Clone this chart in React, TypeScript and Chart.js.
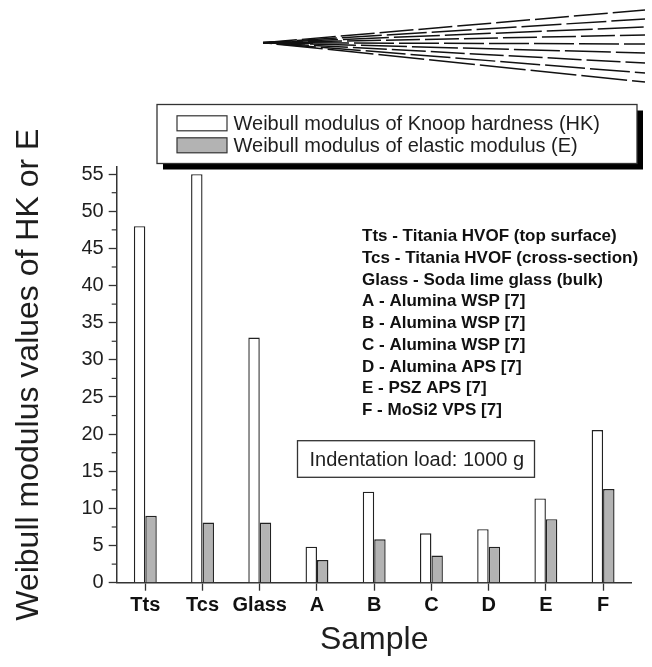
import React, { useEffect, useRef } from 'react';
import { Chart, registerables } from 'chart.js';

Chart.register(...registerables);

const categories = ['Tts', 'Tcs', 'Glass', 'A', 'B', 'C', 'D', 'E', 'F'];
const hkValues = [48, 55, 33, 4.85, 12.25, 6.65, 7.2, 11.35, 20.55];
const eValues = [9.0, 8.1, 8.1, 3.05, 5.85, 3.65, 4.85, 8.55, 12.6];
const seriesLabels = [
  'Weibull modulus of Knoop hardness (HK)',
  'Weibull modulus of elastic modulus (E)',
];
const sampleNotes = [
  'Tts - Titania HVOF (top surface)',
  'Tcs - Titania HVOF (cross-section)',
  'Glass - Soda lime glass (bulk)',
  'A - Alumina WSP [7]',
  'B - Alumina WSP [7]',
  'C - Alumina WSP [7]',
  'D - Alumina APS [7]',
  'E - PSZ APS [7]',
  'F - MoSi2 VPS [7]',
];
const loadNote = 'Indentation load: 1000 g';
const yTitle = 'Weibull modulus values of HK or E';
const xTitle = 'Sample';
const yMin = 0;
const yMax = 56;
const yStep = 5;
const yMinorStep = 2.5;

const FONT = '"Liberation Sans", Arial, Helvetica, sans-serif';
const INK = '#1e1e1e';
const GRAY = '#b3b3b3';

const overlay = {
  id: 'overlay',
  afterDraw(chart: any) {
    const ctx = chart.ctx as CanvasRenderingContext2D;
    const ys = chart.scales.y;
    const area = chart.chartArea;
    ctx.save();

    // minor ticks on y axis
    ctx.strokeStyle = '#333';
    ctx.lineWidth = 1.2;
    for (let v = yMin + yMinorStep; v < yMax; v += yStep) {
      const py = ys.getPixelForValue(v);
      ctx.beginPath();
      ctx.moveTo(area.left - 5, py);
      ctx.lineTo(area.left, py);
      ctx.stroke();
    }

    // decorative fan at top right
    const apexX = 263;
    const apexY = 42.7;
    const endX = 645;
    const fanEnds = [10, 19, 27, 35, 44, 53, 63, 73, 82];
    ctx.strokeStyle = '#111';
    ctx.lineWidth = 1.5;
    fanEnds.forEach((ey, i) => {
      ctx.setLineDash([34 + (i % 3) * 6, 5]);
      ctx.lineDashOffset = i * 11;
      ctx.beginPath();
      ctx.moveTo(apexX, apexY);
      ctx.lineTo(endX, ey);
      ctx.stroke();
    });
    ctx.setLineDash([]);
    ctx.lineWidth = 2.5;
    ctx.beginPath();
    ctx.moveTo(apexX, apexY);
    ctx.lineTo(apexX + 50, apexY);
    ctx.stroke();

    // legend box with shadow
    const lx = 157, ly = 104.5, lw = 480, lh = 59;
    ctx.fillStyle = '#000';
    ctx.fillRect(lx + 6, ly + 6, lw, lh);
    ctx.fillStyle = '#fff';
    ctx.fillRect(lx, ly, lw, lh);
    ctx.strokeStyle = '#333';
    ctx.lineWidth = 1.3;
    ctx.strokeRect(lx, ly, lw, lh);
    const rows = [123.3, 145.3];
    chart.data.datasets.forEach((ds: any, i: number) => {
      const cy = rows[i];
      ctx.fillStyle = ds.backgroundColor;
      ctx.fillRect(177, cy - 7.5, 50, 15);
      ctx.strokeStyle = '#333';
      ctx.lineWidth = 1.2;
      ctx.strokeRect(177, cy - 7.5, 50, 15);
      ctx.fillStyle = INK;
      ctx.font = `20px ${FONT}`;
      ctx.textBaseline = 'middle';
      ctx.textAlign = 'left';
      ctx.fillText(ds.label, 233.5, cy + 1);
    });

    // sample notes
    ctx.font = `bold 17px ${FONT}`;
    ctx.fillStyle = '#111';
    ctx.textBaseline = 'middle';
    sampleNotes.forEach((t, i) => {
      ctx.fillText(t, 362, 236.7 + i * 21.7);
    });

    // indentation load box
    ctx.strokeStyle = '#333';
    ctx.lineWidth = 1.3;
    ctx.strokeRect(297.5, 440.7, 237, 36.6);
    ctx.font = `20px ${FONT}`;
    ctx.fillStyle = INK;
    ctx.fillText(loadNote, 309.5, 460);

    ctx.restore();
  },
};

export default function App() {
  const ref = useRef<HTMLCanvasElement | null>(null);

  useEffect(() => {
    if (!ref.current) return;
    const chart = new Chart(ref.current, {
      type: 'bar',
      data: {
        labels: categories,
        datasets: [
          {
            label: seriesLabels[0],
            data: hkValues,
            backgroundColor: '#ffffff',
            borderColor: '#222',
            borderWidth: 1.4,
          },
          {
            label: seriesLabels[1],
            data: eValues,
            backgroundColor: GRAY,
            borderColor: '#222',
            borderWidth: 1.4,
          },
        ],
      },
      options: {
        animation: false,
        responsive: false,
        maintainAspectRatio: false,
        datasets: {
          bar: { categoryPercentage: 0.4, barPercentage: 1.0 },
        },
        layout: { padding: { top: 166.7, right: 20.3, left: 0, bottom: 0 } },
        plugins: {
          legend: { display: false },
          tooltip: { enabled: false },
        },
        scales: {
          x: {
            type: 'category',
            offset: true,
            grid: {
              offset: false,
              drawOnChartArea: false,
              drawTicks: true,
              tickLength: 8,
              color: '#333',
              tickWidth: 1.3,
            },
            border: { display: true, color: '#333', width: 1.5 },
            ticks: {
              color: '#111',
              font: { family: FONT, size: 20, weight: 'bold' },
              padding: 3,
              maxRotation: 0,
              autoSkip: false,
            },
            title: {
              display: true,
              text: xTitle,
              color: INK,
              font: { family: FONT, size: 32 },
              padding: { top: 0, bottom: 8 },
            },
            afterFit: (s: any) => {
              s.height = 84.3;
            },
          },
          y: {
            type: 'linear',
            min: yMin,
            max: yMax,
            grid: {
              drawOnChartArea: false,
              drawTicks: true,
              tickLength: 8,
              color: '#333',
              tickWidth: 1.3,
            },
            border: { display: true, color: '#333', width: 1.5 },
            ticks: {
              stepSize: yStep,
              includeBounds: false,
              color: INK,
              font: { family: FONT, size: 20 },
              padding: 5,
            },
            title: {
              display: true,
              text: yTitle,
              color: INK,
              font: { family: FONT, size: 32 },
              padding: { top: 10, bottom: 0 },
            },
            afterFit: (s: any) => {
              s.width = 116.7;
            },
          },
        },
      },
      plugins: [overlay],
    });
    return () => chart.destroy();
  }, []);

  return (
    <div style={{ position: 'fixed', left: 0, top: 0, width: 652, height: 667, background: '#fff' }}>
      <canvas ref={ref} width={652} height={667} style={{ width: 652, height: 667, display: 'block' }} />
    </div>
  );
}
